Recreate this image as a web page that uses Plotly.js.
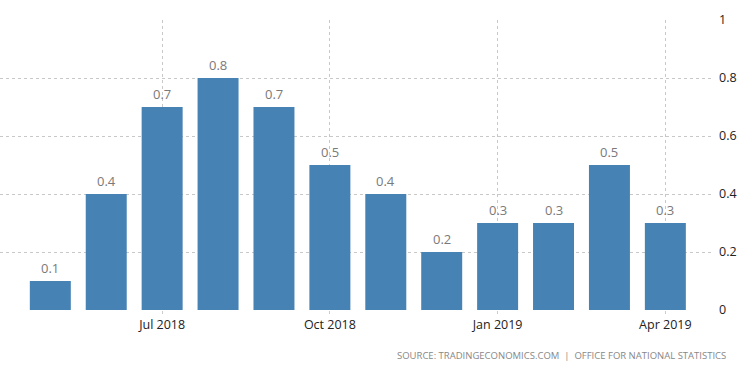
<!DOCTYPE html>
<html>
<head>
<meta charset="utf-8">
<script src="https://cdn.plot.ly/plotly-3.0.1.min.js"></script>
<style>html,body{margin:0;padding:0;background:#fff;}#chart{width:750px;height:373px;}</style>
</head>
<body>
<div id="chart"></div>
<script>
const months = ["May 2018","Jun 2018","Jul 2018","Aug 2018","Sep 2018","Oct 2018","Nov 2018","Dec 2018","Jan 2019","Feb 2019","Mar 2019","Apr 2019"];
const values = [0.1, 0.4, 0.7, 0.8, 0.7, 0.5, 0.4, 0.2, 0.3, 0.3, 0.5, 0.3];
const xTickLabels = ["Jul 2018","Oct 2018","Jan 2019","Apr 2019"];
const yTicks = [0, 0.2, 0.4, 0.6, 0.8, 1];
const yTickLabels = ["0", "0.2", "0.4", "0.6", "0.8", "1"];
const sourceText = "SOURCE: TRADINGECONOMICS.COM  |  OFFICE FOR NATIONAL STATISTICS";

const trace = {
  type: 'bar',
  x: months,
  y: values,
  marker: {color: '#4682b4'},
  hoverinfo: 'none'
};

const valueLabels = months.map((m, i) => ({
  x: m, y: values[i], xref: 'x', yref: 'y',
  text: values[i].toFixed(1), showarrow: false,
  yanchor: 'bottom', yshift: 2,
  font: {family: 'Open Sans, sans-serif', size: 13, color: '#7a7a7a'}
}));

const layout = {
  width: 750, height: 373,
  margin: {l: 0, r: 36, t: 20, b: 63},
  paper_bgcolor: '#fff', plot_bgcolor: '#fff',
  showlegend: false,
  bargap: 0.267,
  font: {family: 'Open Sans, sans-serif', size: 12, color: '#222'},
  xaxis: {
    type: 'category',
    range: [-0.9, 11.87],
    tickmode: 'array',
    tickvals: xTickLabels,
    ticktext: xTickLabels,
    showgrid: true,
    gridcolor: '#c8c8c8',
    griddash: 'dot',
    gridwidth: 1,
    ticks: 'outside', ticklen: 3, tickcolor: '#ccc',
    zeroline: false, showline: false,
    tickfont: {family: 'Open Sans, sans-serif', size: 12.5, color: '#222'},
    fixedrange: true
  },
  yaxis: {
    side: 'right',
    range: [0, 1],
    tickmode: 'array',
    tickvals: yTicks,
    ticktext: yTickLabels,
    showgrid: true,
    gridcolor: '#c8c8c8',
    griddash: 'dot',
    gridwidth: 1,
    zeroline: false, showline: false,
    ticks: '', ticklabelstandoff: 4,
    tickfont: {family: 'Open Sans, sans-serif', size: 12.5, color: '#222'},
    fixedrange: true
  },
  annotations: valueLabels.concat([{
    xref: 'paper', yref: 'paper', x: 1.02, y: -0.158,
    xanchor: 'right', yanchor: 'middle', showarrow: false,
    text: sourceText,
    font: {family: 'Open Sans, sans-serif', size: 9.5, color: '#888'}
  }])
};

Plotly.newPlot('chart', [trace], layout, {displayModeBar: false, staticPlot: true});
</script>
</body>
</html>
